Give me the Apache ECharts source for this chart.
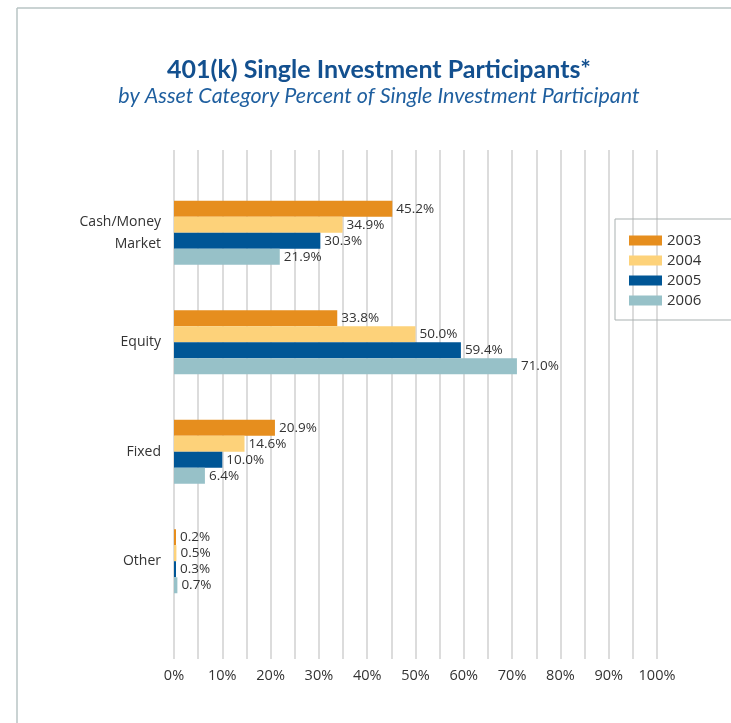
<!DOCTYPE html>
<html>
<head>
<meta charset="utf-8">
<script src="https://cdn.jsdelivr.net/npm/echarts@6/dist/echarts.min.js"></script>
<style>
  html, body { margin: 0; padding: 0; background: #fff; }
  #chart { width: 731px; height: 723px; }
</style>
</head>
<body>
<div id="chart"></div>
<script>
const categories = ['Cash/Money\nMarket', 'Equity', 'Fixed', 'Other'];
const years = ['2003', '2004', '2005', '2006'];
const values2003 = [45.2, 33.8, 20.9, 0.2];
const values2004 = [34.9, 50.0, 14.6, 0.5];
const values2005 = [30.3, 59.4, 10.0, 0.3];
const values2006 = [21.9, 71.0, 6.4, 0.7];
const tickLabels = ['0%', '10%', '20%', '30%', '40%', '50%', '60%', '70%', '80%', '90%', '100%'];

const colors = ['#E68E1E', '#FDD27A', '#005696', '#97C1C8'];
const seriesValues = [values2003, values2004, values2005, values2006];

const chart = echarts.init(document.getElementById('chart'));

const option = {
  animation: false,
  color: colors,
  title: [
    {
      text: '401(k) Single Investment Participants*',
      left: 374,
      textAlign: 'center',
      top: 52,
      textStyle: { fontFamily: 'Lato', fontWeight: 'bold', fontSize: 25, color: '#13508f' }
    },
    {
      text: 'by Asset Category Percent of Single Investment Participant',
      left: 374,
      textAlign: 'center',
      top: 80,
      textStyle: { fontFamily: 'Lato', fontStyle: 'italic', fontWeight: 'normal', fontSize: 21.5, color: '#1f5f9f' }
    }
  ],
  legend: {
    data: years,
    orient: 'vertical',
    left: 615,
    top: 219,
    padding: [14, 70, 12, 14],
    borderColor: '#a9b1b1',
    borderWidth: 1,
    itemWidth: 33,
    itemHeight: 10,
    itemGap: 5,
    icon: 'rect',
    textStyle: { fontFamily: 'Open Sans', fontSize: 15, lineHeight: 15, color: '#333' }
  },
  graphic: [
    { type: 'line', shape: { x1: 17, y1: 8, x2: 731, y2: 8 }, style: { stroke: '#b8c4c4', lineWidth: 1.5 } },
    { type: 'line', shape: { x1: 17, y1: 8, x2: 17, y2: 723 }, style: { stroke: '#b8c4c4', lineWidth: 1.5 } }
  ],
  grid: [
    { left: 174, right: 74, top: 150, bottom: 64 },
    { left: 174, right: 74, top: 178, height: 438 }
  ],
  xAxis: [
    {
      gridIndex: 0,
      type: 'value',
      min: 0,
      max: 100,
      interval: 5,
      axisLine: { show: false },
      axisTick: { show: false },
      splitLine: { lineStyle: { color: '#dcdcdc', width: 2 } },
      axisLabel: {
        margin: 9,
        fontFamily: 'Open Sans',
        fontSize: 14.5,
        color: '#333',
        formatter: v => (v % 10 === 0 ? tickLabels[v / 10] : '')
      }
    },
    {
      gridIndex: 1,
      type: 'value',
      min: 0,
      max: 100,
      show: false
    }
  ],
  yAxis: [
    {
      gridIndex: 0,
      type: 'value',
      show: false
    },
    {
      gridIndex: 1,
      type: 'category',
      data: categories,
      inverse: true,
      axisLine: { show: false },
      axisTick: { show: false },
      axisLabel: {
        margin: 13,
        fontFamily: 'Open Sans',
        fontSize: 14,
        lineHeight: 22,
        color: '#333',
        align: 'right'
      }
    }
  ],
  series: years.map((y, i) => ({
    name: y,
    type: 'bar',
    xAxisIndex: 1,
    yAxisIndex: 1,
    data: seriesValues[i],
    barWidth: 16,
    barGap: '0%',
    barMinHeight: 2,
    label: {
      show: true,
      position: 'right',
      distance: 4,
      fontFamily: 'Open Sans',
      fontSize: 13.5,
      color: '#333',
      formatter: p => p.value.toFixed(1) + '%'
    }
  }))
};

chart.setOption(option);
</script>
</body>
</html>
